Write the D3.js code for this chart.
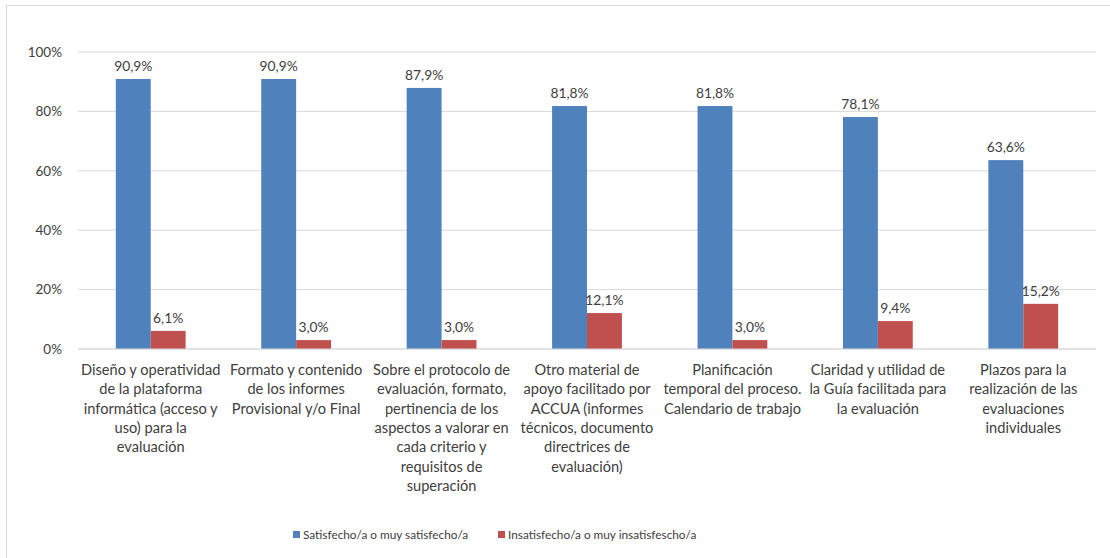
<!DOCTYPE html>
<html><head><meta charset="utf-8">
<script src="https://cdn.jsdelivr.net/npm/d3@7"></script>
<style>
html,body{margin:0;padding:0;background:#fff;}
svg{display:block;font-family:Lato,"Open Sans",sans-serif;}
</style></head>
<body>
<svg id="c" width="1110" height="558"></svg>
<script>
const categories = [
  ["Diseño y operatividad","de la plataforma","informática (acceso y","uso) para la","evaluación"],
  ["Formato y contenido","de los informes","Provisional y/o Final"],
  ["Sobre el protocolo de","evaluación, formato,","pertinencia de los","aspectos a valorar en","cada criterio y","requisitos de","superación"],
  ["Otro material de","apoyo facilitado por","ACCUA (informes","técnicos, documento","directrices de","evaluación)"],
  ["Planificación","temporal del proceso.","Calendario de trabajo"],
  ["Claridad y utilidad de","la Guía facilitada para","la evaluación"],
  ["Plazos para la","realización de las","evaluaciones","individuales"]
];
const satisfecho = [90.9, 90.9, 87.9, 81.8, 81.8, 78.1, 63.6];
const insatisfecho = [6.1, 3.0, 3.0, 12.1, 3.0, 9.4, 15.2];
const seriesNames = ["Satisfecho/a o muy satisfecho/a","Insatisfecho/a o muy insatisfescho/a"];
const yTicks = [0,20,40,60,80,100];
const colors = ["#4F81BD","#C0504D"];

(function(){
const svg = d3.select("#c");
const textColor = "#404040";
svg.append("rect").attr("x",6.5).attr("y",5.5).attr("width",1110).attr("height",600)
  .attr("fill","none").attr("stroke","#D9D9D9");

const pL = 78, pR = 1096, pT = 52, pB = 349;
const x = d3.scaleBand().domain(d3.range(categories.length)).range([pL,pR]).paddingInner(0.52).paddingOuter(0.26);
const xs = d3.scaleBand().domain([0,1]).range([0,x.bandwidth()]);
const y = d3.scaleLinear().domain([0,100]).range([pB,pT]);

svg.append("g").selectAll("line").data(yTicks).join("line")
  .attr("x1",pL).attr("x2",pR).attr("y1",d=>y(d)).attr("y2",d=>y(d))
  .attr("stroke","#D9D9D9").attr("stroke-width",1);

const yAxis = d3.axisLeft(y).tickValues(yTicks).tickFormat(d=>d+"%").tickSize(0).tickPadding(16);
const ya = svg.append("g").attr("transform",`translate(${pL},0)`).call(yAxis);
ya.select(".domain").remove();
ya.selectAll("text").attr("fill",textColor).style("font-size","13.5px").style("font-family","Lato,'Open Sans',sans-serif");

const data = [satisfecho, insatisfecho];
data.forEach((vals,si)=>{
  const g = svg.append("g");
  g.selectAll("rect").data(vals).join("rect")
    .attr("x",(d,i)=>x(i)+xs(si)).attr("width",xs.bandwidth())
    .attr("y",d=>y(d)).attr("height",d=>y(0)-y(d))
    .attr("fill",colors[si]);
  g.selectAll("text").data(vals).join("text")
    .attr("x",(d,i)=>x(i)+xs(si)+xs.bandwidth()/2)
    .attr("y",d=>y(d)-8)
    .attr("text-anchor","middle").attr("fill",textColor).style("font-size","13.8px")
    .text(d=>d.toFixed(1).replace(".",",")+"%");
});

svg.append("line").attr("x1",pL).attr("x2",pR).attr("y1",y(0)).attr("y2",y(0)).attr("stroke","#D9D9D9");

const cg = svg.append("g");
categories.forEach((lines,i)=>{
  const t = cg.append("text").attr("text-anchor","middle").attr("fill",textColor).style("font-size","14.6px");
  lines.forEach((ln,j)=>{
    t.append("tspan").attr("x",x(i)+x.bandwidth()/2).attr("y",375+j*19.3).text(ln);
  });
});

const legX = [293, 498];
seriesNames.forEach((n,i)=>{
  svg.append("rect").attr("x",legX[i]).attr("y",531).attr("width",7).attr("height",7).attr("fill",colors[i]);
  svg.append("text").attr("x",legX[i]+10).attr("y",539).attr("fill",textColor).style("font-size","11.8px").text(n);
});
})();
</script>
</body></html>
